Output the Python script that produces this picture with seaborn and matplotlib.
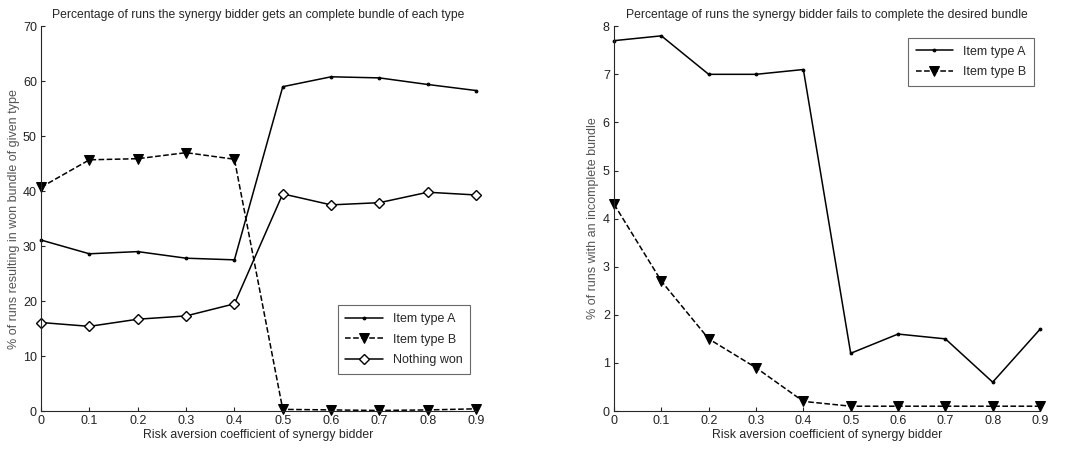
import numpy as np
import pandas as pd
import matplotlib
matplotlib.use('Agg')
import matplotlib.pyplot as plt
import seaborn as sns

sns.set_style('ticks')
plt.rcParams['font.family'] = ['Liberation Sans', 'DejaVu Sans']

risk = [0, 0.1, 0.2, 0.3, 0.4, 0.5, 0.6, 0.7, 0.8, 0.9]

# left panel: complete bundle won
won_a = [31.1, 28.6, 29.0, 27.8, 27.5, 59.0, 60.8, 60.6, 59.4, 58.3]
won_b = [40.7, 45.7, 45.9, 47.0, 45.8, 0.3, 0.2, 0.1, 0.2, 0.4]
nothing_won = [16.1, 15.4, 16.7, 17.3, 19.5, 39.5, 37.5, 37.9, 39.8, 39.3]

# right panel: incomplete bundle
fail_a = [7.7, 7.8, 7.0, 7.0, 7.1, 1.2, 1.6, 1.5, 0.6, 1.7]
fail_b = [4.3, 2.7, 1.5, 0.9, 0.2, 0.1, 0.1, 0.1, 0.1, 0.1]

fig = plt.figure(figsize=(10.69, 4.49), dpi=100)
ax1 = fig.add_axes([0.0384, 0.0846, 0.407, 0.857])
ax2 = fig.add_axes([0.5744, 0.0846, 0.3985, 0.857])

style_a = dict(color='black', linewidth=1.1, marker='.', markersize=4,
               markeredgecolor='black', clip_on=False)
style_b = dict(color='black', linewidth=1.1, linestyle='--', dashes=(5, 4), marker='v',
               markersize=7.5, markerfacecolor='black', markeredgecolor='black',
               clip_on=False)
style_n = dict(color='black', linewidth=1.1, marker='D', markersize=5.5,
               markerfacecolor='white', markeredgecolor='black',
               markeredgewidth=1.0, clip_on=False)

sns.lineplot(x=risk, y=won_a, ax=ax1, label='Item type A', **style_a)
sns.lineplot(x=risk, y=won_b, ax=ax1, label='Item type B', **style_b)
sns.lineplot(x=risk, y=nothing_won, ax=ax1, label='Nothing won', **style_n)

sns.lineplot(x=risk, y=fail_a, ax=ax2, label='Item type A', **style_a)
sns.lineplot(x=risk, y=fail_b, ax=ax2, label='Item type B', **style_b)

fs = 9
for ax in (ax1, ax2):
    ax.set_xlim(0, 0.9)
    ax.set_xticks(risk)
    ax.set_xticklabels(['0'] + [f'{v:.1f}' for v in risk[1:]])
    ax.tick_params(direction='in', length=3, labelsize=fs, pad=3, labelcolor='#222222')
    ax.set_xlabel('Risk aversion coefficient of synergy bidder', fontsize=8.8, labelpad=1)
    for s in ('top', 'right'):
        ax.spines[s].set_visible(False)
    for s in ('left', 'bottom'):
        ax.spines[s].set_linewidth(0.8)
    ax.patch.set_alpha(0)

ax1.set_ylim(0, 70)
ax1.set_yticks(range(0, 71, 10))
ax1.set_ylabel('% of runs resulting in won bundle of given type', fontsize=fs,
               color='#555555', labelpad=2)
ax1.set_title('Percentage of runs the synergy bidder gets an complete bundle of each type',
              fontsize=8.7, pad=6)
leg1 = ax1.legend(loc='lower right', bbox_to_anchor=(1.0, 0.08), fontsize=fs,
                  frameon=True, fancybox=False, edgecolor='#444444',
                  handlelength=3.0, borderpad=0.6, labelspacing=0.7)
leg1.get_frame().set_linewidth(0.8)

ax2.set_ylim(0, 8)
ax2.set_yticks(range(0, 9))
ax2.set_ylabel('% of runs with an incomplete bundle', fontsize=fs,
               color='#555555', labelpad=3)
ax2.set_title('Percentage of runs the synergy bidder fails to complete the desired bundle',
              fontsize=8.7, pad=6)
leg2 = ax2.legend(loc='upper right', bbox_to_anchor=(1.0, 0.985), fontsize=fs,
                  frameon=True, fancybox=False, edgecolor='#444444',
                  handlelength=3.0, borderpad=0.6, labelspacing=0.7)
leg2.get_frame().set_linewidth(0.8)

fig.savefig('out.png', dpi=100)
